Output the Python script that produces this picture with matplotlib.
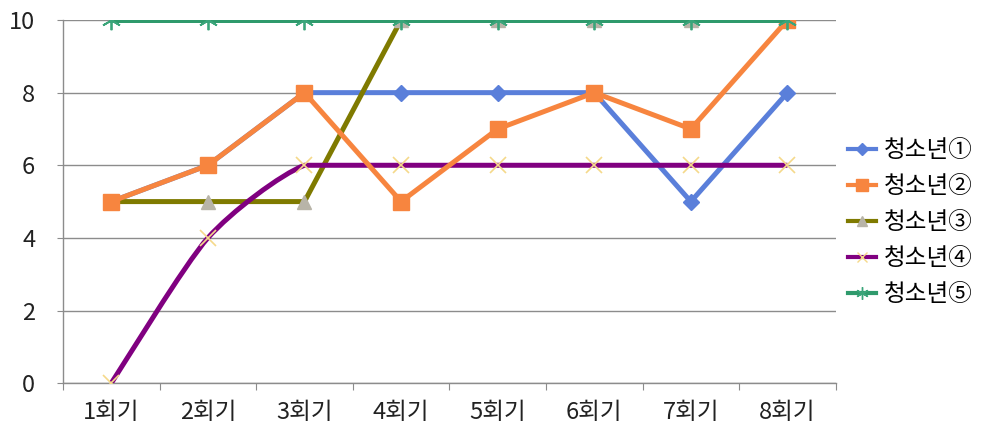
import numpy as np
import matplotlib
matplotlib.use('Agg')
import matplotlib.pyplot as plt
from matplotlib.path import Path
from matplotlib.patches import PathPatch
from matplotlib.lines import Line2D

plt.rcParams['font.family'] = ['Noto Sans CJK KR', 'DejaVu Sans']

# 데이터
sessions = ['1회기', '2회기', '3회기', '4회기', '5회기', '6회기', '7회기', '8회기']
names = ['청소년①', '청소년②', '청소년③', '청소년④', '청소년⑤']
youth1 = [5, 6, 8, 8, 8, 8, 5, 8]
youth2 = [5, 6, 8, 5, 7, 8, 7, 10]
youth3 = [5, 5, 5, 10, 10, 10, 10, 10]
youth4 = [0, 4, 6, 6, 6, 6, 6, 6]
youth5 = [10, 10, 10, 10, 10, 10, 10, 10]
y_ticks = [0, 2, 4, 6, 8, 10]

fig = plt.figure(figsize=(9.92, 4.45), dpi=100)
ax = fig.add_axes([0.0635, 0.139, 0.779, 0.816])

x = np.arange(1, len(sessions) + 1)

for yv in y_ticks:
    ax.axhline(yv, color='#8c8c8c', lw=1.0, zorder=0)


def smooth_path(xs, ys, t=0.12):
    # 부드러운 선 (베지어), 구간 밖으로 넘치지 않게
    pts = np.column_stack([xs, ys]).astype(float)
    verts = [pts[0]]
    codes = [Path.MOVETO]
    n = len(pts)
    for i in range(n - 1):
        p0 = pts[i - 1] if i > 0 else pts[i]
        p1 = pts[i]
        p2 = pts[i + 1]
        p3 = pts[i + 2] if i + 2 < n else pts[i + 1]
        c1 = p1 + (p2 - p0) * t
        c2 = p2 - (p3 - p1) * t
        lo, hi = min(p1[1], p2[1]), max(p1[1], p2[1])
        c1[1] = np.clip(c1[1], lo, hi)
        c2[1] = np.clip(c2[1], lo, hi)
        verts += [c1, c2, p2]
        codes += [Path.CURVE4] * 3
    return Path(verts, codes)


lw = 3.6
ax.plot(x, youth1, color='#5a7fda', lw=lw, marker='D', ms=8, mec='#5a7fda', mfc='#5a7fda', zorder=3)
ax.plot(x, youth2, color='#f7853f', lw=lw, marker='s', ms=11, mec='#f7853f', mfc='#f7853f', zorder=4)
ax.plot(x, youth3, color='#7f7a00', lw=lw, zorder=3)
ax.plot(x, youth3, ls='none', marker='^', ms=10, mfc='#b8b4a8', mec='#b8b4a8', zorder=3.5)
ax.add_patch(PathPatch(smooth_path(x, youth4), facecolor='none', edgecolor='#800080', lw=lw, zorder=3))
ax.plot(x, youth4, ls='none', marker='x', ms=11, mew=1.2, color='#f5d98a', zorder=3.5)
ax.plot(x, youth5, color='#2f9a6c', lw=lw, zorder=5)
ax.plot(x, youth5, ls='none', marker=(6, 2, 0), ms=14, mew=1.3, color='#3aa57a', zorder=5.1)

ax.set_xlim(0.5, len(sessions) + 0.5)
ax.set_ylim(0, 10)
ax.set_yticks(y_ticks)
ax.set_yticklabels([str(v) for v in y_ticks])
ax.set_xticks(np.arange(0.5, len(sessions) + 1, 1))
ax.set_xticklabels([])
ax.set_xticks(x, minor=True)
ax.set_xticklabels(sessions, minor=True)
ax.tick_params(axis='x', which='major', length=5, color='#8c8c8c', direction='out')
ax.tick_params(axis='x', which='minor', length=0, pad=13, labelsize=17, labelcolor='#222222')
ax.tick_params(axis='y', length=4, color='#8c8c8c', pad=16, labelsize=17, labelcolor='#222222')

for s in ['top', 'right']:
    ax.spines[s].set_visible(False)
for s in ['left', 'bottom']:
    ax.spines[s].set_color('#8c8c8c')
    ax.spines[s].set_linewidth(1.0)
ax.spines['bottom'].set_zorder(1)

handles = [
    Line2D([], [], color='#5a7fda', lw=3, marker='D', ms=6),
    Line2D([], [], color='#f7853f', lw=3, marker='s', ms=8),
    Line2D([], [], color='#7f7a00', lw=3, marker='^', ms=7, mfc='#b8b4a8', mec='#b8b4a8'),
    Line2D([], [], color='#800080', lw=3, marker='x', ms=7, mec='#f5d98a'),
    Line2D([], [], color='#2f9a6c', lw=3, marker=(6, 2, 0), ms=9, mec='#3aa57a'),
]
fig.legend(handles, names, loc='center left', bbox_to_anchor=(0.855, 0.5),
           frameon=False, fontsize=17, handlelength=1.2, handletextpad=0.3,
           labelspacing=0.55, borderpad=0.0, borderaxespad=0.0)

fig.savefig('out.png', dpi=100)
